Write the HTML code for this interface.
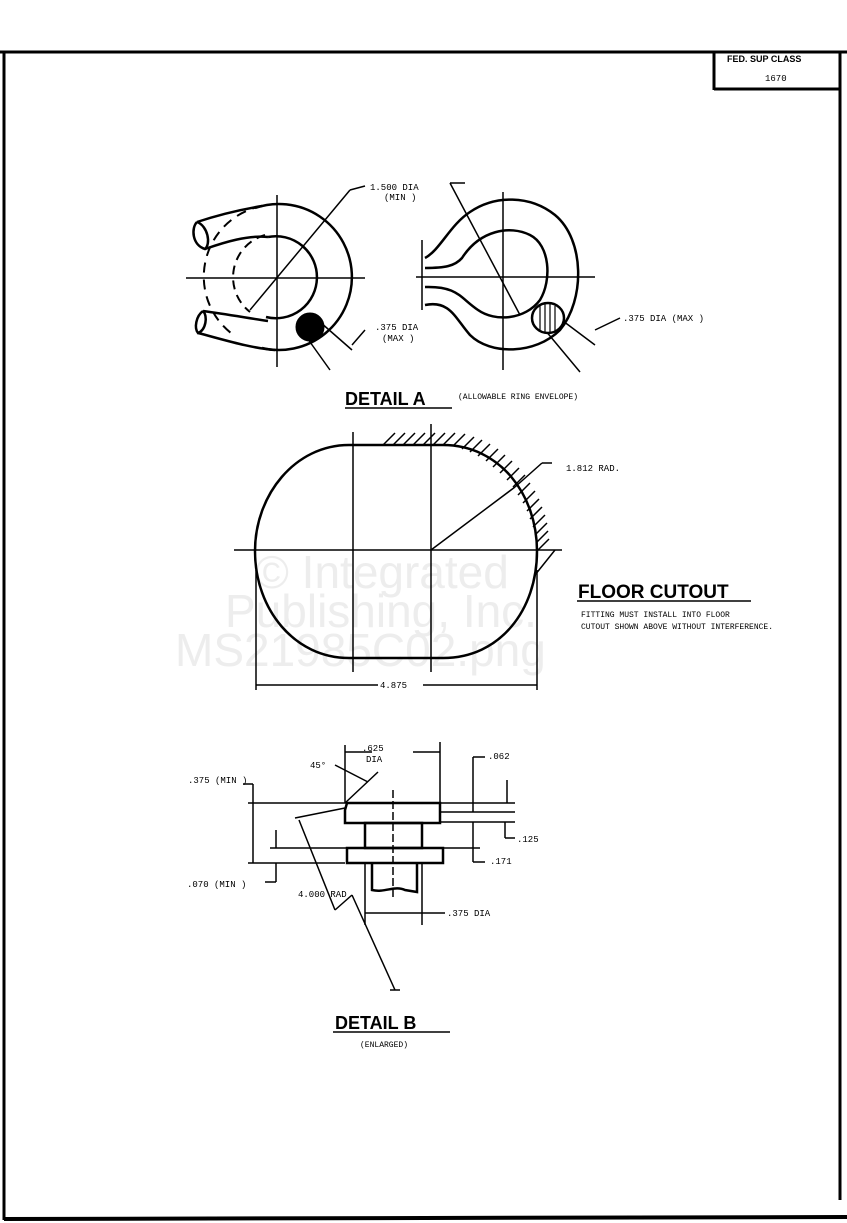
<!DOCTYPE html>
<html><head><meta charset="utf-8"><style>
html,body{margin:0;padding:0;background:#fff;}
svg{display:block;}
text{font-family:"Liberation Mono",monospace;fill:#000;}
.b{font-family:"Liberation Sans",sans-serif;font-weight:bold;}
.wm{font-family:"Liberation Sans",sans-serif;fill:#ededed;font-size:46px;}
</style></head><body>
<svg width="847" height="1223" viewBox="0 0 847 1223" xmlns="http://www.w3.org/2000/svg">
<rect width="847" height="1223" fill="#fff"/>
<text class="wm" x="255" y="588">© Integrated</text>
<text class="wm" x="225" y="627">Publishing, Inc.</text>
<text class="wm" x="175" y="666">MS21985C02.png</text>
<g stroke="#000" fill="none">
<line x1="0" y1="52" x2="847" y2="52" stroke-width="3"/>
<line x1="4" y1="52" x2="4" y2="1220" stroke-width="3"/>
<line x1="840" y1="52" x2="840" y2="1200" stroke-width="3"/>
<line x1="4" y1="1219" x2="847" y2="1217" stroke-width="4"/>
<line x1="714" y1="52" x2="714" y2="90" stroke-width="3"/>
<line x1="714" y1="89" x2="840" y2="89" stroke-width="3"/>

<!-- Detail A left -->
<g stroke-width="2.5">
<path d="M255,208 A73,73 0 1 1 262,348"/>
<path d="M268,237 A41,41 0 1 1 266,317"/>
<path d="M262,206 A72,72 0 0 0 235,336" stroke-dasharray="10,7" stroke-width="2"/>
<path d="M265,235 A44,44 0 0 0 250,312" stroke-dasharray="9,6" stroke-width="2"/>
<path d="M197,222 C215,216 238,210 262,206"/>
<path d="M205,249 C225,242 248,235 268,237"/>
<path d="M197,222 C191,228 192,245 205,249 C211,244 208,226 197,222"/>
<path d="M203,311 C225,314 248,318 268,321"/>
<path d="M198,333 C225,340 250,348 275,350"/>
<path d="M203,311 C196,316 194,328 198,333 C206,330 208,316 203,311"/>
</g>
<g stroke-width="1.5">
<line x1="186" y1="278" x2="365" y2="278"/>
<line x1="277" y1="195" x2="277" y2="367"/>
<line x1="250" y1="310" x2="350" y2="190"/><line x1="350" y1="190" x2="365" y2="186"/>
<line x1="312" y1="315" x2="352" y2="350"/>
<line x1="305" y1="335" x2="330" y2="370"/>
<line x1="352" y1="345" x2="365" y2="330"/>
</g>
<ellipse cx="310" cy="327" rx="14" ry="14" fill="#000"/>

<!-- Detail A right -->
<g stroke-width="2.5">
<path d="M425,258 C440,250 450,225 470,212 C495,195 530,195 555,215 C585,240 585,300 560,330 C535,355 490,355 470,335 C455,318 450,300 425,305"/>
<path d="M425,268 C445,268 455,266 462,258 C480,230 510,225 530,235 C550,245 552,280 540,300 C525,320 495,322 478,310 C460,298 458,286 425,287"/>
</g>
<g stroke-width="1.5">
<line x1="416" y1="277" x2="595" y2="277"/>
<line x1="503" y1="192" x2="503" y2="370"/>
<line x1="422" y1="240" x2="422" y2="310"/>
<line x1="450" y1="183" x2="520" y2="315"/><line x1="450" y1="183" x2="465" y2="183"/>
<line x1="555" y1="315" x2="595" y2="345"/>
<line x1="545" y1="330" x2="580" y2="372"/>
<line x1="595" y1="330" x2="620" y2="318"/>
</g>
<ellipse cx="548" cy="318" rx="16" ry="15" fill="#fff" stroke="#000" stroke-width="2.5"/>
<g stroke-width="1.2"><line x1="540" y1="306" x2="540" y2="330"/><line x1="545" y1="304" x2="545" y2="333"/><line x1="550" y1="304" x2="550" y2="333"/><line x1="555" y1="306" x2="555" y2="331"/></g>
<text x="370" y="190" font-size="9" stroke="none">1.500 DIA</text>
<text x="384" y="200" font-size="9" stroke="none">(MIN )</text>
<text x="375" y="330" font-size="9" stroke="none">.375 DIA</text>
<text x="382" y="341" font-size="9" stroke="none">(MAX )</text>
<text x="623" y="321" font-size="9" stroke="none">.375 DIA (MAX )</text>
<text class="b" x="345" y="405" font-size="18" stroke="none">DETAIL A</text>
<line x1="345" y1="408" x2="452" y2="408" stroke-width="1.5"/>
<text x="458" y="399" font-size="8" stroke="none">(ALLOWABLE RING ENVELOPE)</text>

<!-- Floor cutout -->
<path d="M349,445 L443,445 C500,445 537,495 537,551 C537,610 500,658 443,658 L349,658 C295,658 255,610 255,551 C255,495 295,445 349,445 Z" stroke-width="2.5"/>
<g stroke-width="1.5">
<line x1="353" y1="432" x2="353" y2="672"/>
<line x1="431" y1="424" x2="431" y2="672"/>
<line x1="234" y1="550" x2="562" y2="550"/>
<line x1="431" y1="550" x2="515" y2="487"/>
<line x1="515" y1="487" x2="542" y2="463"/><line x1="542" y1="463" x2="552" y2="463"/>
<line x1="256" y1="570" x2="256" y2="690"/>
<line x1="537" y1="570" x2="537" y2="690"/>
<line x1="256" y1="685" x2="378" y2="685"/>
<line x1="423" y1="685" x2="537" y2="685"/>
<line x1="535" y1="575" x2="555" y2="550"/>
</g>
<g stroke-width="1.5">
<path d="M383,445 l12,-12 M393,445 l12,-12 M403,445 l12,-12 M413,445 l12,-12 M423,445 l12,-12 M433,445 l12,-12 M443,445 l12,-12 M453,446 l12,-12 M462,449 l12,-12 M470,452 l12,-12 M478,456 l12,-12 M486,461 l12,-12 M493,467 l12,-12 M500,473 l12,-12 M507,480 l12,-12 M513,487 l12,-12 M518,495 l12,-12 M523,503 l12,-12 M527,511 l12,-12 M530,519 l12,-12 M533,527 l12,-12 M535,535 l12,-12 M536,543 l12,-12 M537,551 l12,-12"/>
</g>
<text x="566" y="471" font-size="9" stroke="none">1.812 RAD.</text>
<text x="380" y="688" font-size="9" stroke="none">4.875</text>
<text class="b" x="578" y="598" font-size="19" stroke="none">FLOOR  CUTOUT</text>
<line x1="577" y1="601" x2="751" y2="601" stroke-width="1.5"/>
<text x="581" y="617" font-size="8" stroke="none">FITTING MUST INSTALL INTO FLOOR</text>
<text x="581" y="629" font-size="8" stroke="none">CUTOUT SHOWN ABOVE WITHOUT INTERFERENCE.</text>

<!-- Detail B -->
<g stroke-width="2.5">
<path d="M347,803 L440,803 L440,823 L345,823 L345,810 Z"/>
<rect x="365" y="823" width="57" height="25"/>
<rect x="347" y="848" width="96" height="15"/>
<path d="M372,863 L372,890 C385,893 395,885 405,890 L417,892 L417,863"/>
</g>
<g stroke-width="1.5">
<line x1="393" y1="790" x2="393" y2="900" stroke-dasharray="8,3"/>
<line x1="248" y1="803" x2="515" y2="803"/>
<line x1="440" y1="812" x2="515" y2="812"/>
<line x1="440" y1="822" x2="515" y2="822"/>
<line x1="270" y1="848" x2="480" y2="848"/>
<line x1="248" y1="863" x2="345" y2="863"/>
<line x1="345" y1="745" x2="345" y2="803"/>
<line x1="440" y1="742" x2="440" y2="803"/>
<line x1="345" y1="752" x2="372" y2="752"/><line x1="413" y1="752" x2="440" y2="752"/>
<line x1="253" y1="803" x2="253" y2="863"/>
<line x1="243" y1="784" x2="253" y2="784"/><line x1="253" y1="784" x2="253" y2="803"/>
<line x1="276" y1="830" x2="276" y2="848"/>
<line x1="276" y1="863" x2="276" y2="882"/><line x1="265" y1="882" x2="276" y2="882"/>
<line x1="473" y1="757" x2="473" y2="812"/><line x1="473" y1="757" x2="485" y2="757"/>
<line x1="507" y1="780" x2="507" y2="803"/>
<line x1="473" y1="822" x2="473" y2="862"/><line x1="473" y1="862" x2="485" y2="862"/>
<line x1="505" y1="822" x2="505" y2="838"/><line x1="505" y1="838" x2="515" y2="838"/>
<line x1="365" y1="863" x2="365" y2="925"/>
<line x1="422" y1="863" x2="422" y2="925"/>
<line x1="365" y1="913" x2="445" y2="913"/>
<line x1="345" y1="803" x2="378" y2="772"/>
<line x1="335" y1="765" x2="368" y2="782"/>
<line x1="295" y1="818" x2="345" y2="808"/>
<line x1="299" y1="820" x2="335" y2="910"/>
<line x1="335" y1="910" x2="352" y2="895"/>
<line x1="352" y1="895" x2="395" y2="990"/>
<line x1="390" y1="990" x2="400" y2="990"/>
</g>
<text x="362" y="751" font-size="9" stroke="none">.625</text>
<text x="366" y="762" font-size="9" stroke="none">DIA</text>
<text x="310" y="768" font-size="9" stroke="none">45°</text>
<text x="188" y="783" font-size="9" stroke="none">.375 (MIN )</text>
<text x="488" y="759" font-size="9" stroke="none">.062</text>
<text x="517" y="842" font-size="9" stroke="none">.125</text>
<text x="490" y="864" font-size="9" stroke="none">.171</text>
<text x="187" y="887" font-size="9" stroke="none">.070 (MIN )</text>
<text x="298" y="897" font-size="9" stroke="none">4.000 RAD</text>
<text x="447" y="916" font-size="9" stroke="none">.375 DIA</text>
<text class="b" x="335" y="1029" font-size="18" stroke="none">DETAIL  B</text>
<line x1="333" y1="1032" x2="450" y2="1032" stroke-width="1.5"/>
<text x="360" y="1047" font-size="8" stroke="none">(ENLARGED)</text>
</g>
<text class="b" x="727" y="62" font-size="9">FED. SUP CLASS</text>
<text x="765" y="81" font-size="9">1670</text>
</svg>
</body></html>
